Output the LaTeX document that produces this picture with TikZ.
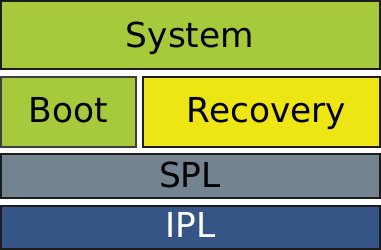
\documentclass[tikz,border=0pt]{standalone}
\usepackage{fontspec}
\setmainfont{DejaVu Sans}
\definecolor{cgreen}{RGB}{166,202,60}
\definecolor{cyellow}{RGB}{238,230,20}
\definecolor{cgray}{RGB}{115,131,143}
\definecolor{cblue}{RGB}{53,85,135}
\definecolor{cline}{RGB}{28,28,28}
\begin{document}
\begin{tikzpicture}[x=1bp,y=-1bp,
  layer/.style={draw=cline,line width=2bp},
  lbl/.style={inner sep=0pt,anchor=base,font=\fontsize{34.5}{35}\selectfont}]
\useasboundingbox (0,0) rectangle (381,250);
\draw[layer,fill=cgreen] (1,1) rectangle (379.5,69);
\node[lbl] (system) at (190,47) {System};
\draw[layer,fill=cgreen,draw=cline!85] (1,77) rectangle (136,147);
\node[lbl] (boot) at (68.5,122) {Boot};
\draw[layer,fill=cyellow] (142.5,77) rectangle (379.5,147);
\node[lbl] (recovery) at (266.5,122) {Recovery};
\draw[layer,fill=cgray] (1,154) rectangle (379.5,198);
\node[lbl] (spl) at (190,187.5) {SPL};
\draw[layer,fill=cblue] (1,206) rectangle (379.5,249);
\node[lbl,text=white] (ipl) at (190.5,237) {IPL};
\end{tikzpicture}
\end{document}
